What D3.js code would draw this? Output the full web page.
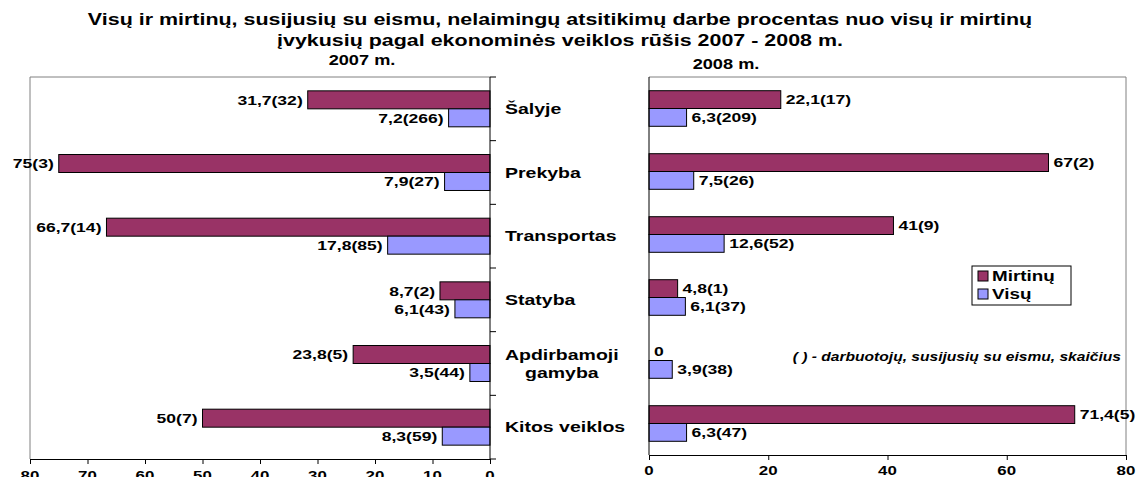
<!DOCTYPE html>
<html>
<head>
<meta charset="utf-8">
<script src="https://cdn.jsdelivr.net/npm/d3@7"></script>
<style>
  body { margin: 0; background: #fff; }
  text { font-family: "Liberation Sans", Arial, sans-serif; font-weight: bold; fill: #000; }
</style>
</head>
<body>
<div id="chart"></div>
<script>
const categories = ['Šalyje', 'Prekyba', 'Transportas', 'Statyba', 'Apdirbamoji\ngamyba', 'Kitos veiklos'];
const series = ['Mirtinų', 'Visų'];
const fatal2007 = [31.7, 75, 66.7, 8.7, 23.8, 50];
const fatalCount2007 = [32, 3, 14, 2, 5, 7];
const all2007 = [7.2, 7.9, 17.8, 6.1, 3.5, 8.3];
const allCount2007 = [266, 27, 85, 43, 44, 59];
const fatal2008 = [22.1, 67, 41, 4.8, 0, 71.4];
const fatalCount2008 = [17, 2, 9, 1, null, 5];
const all2008 = [6.3, 7.5, 12.6, 6.1, 3.9, 6.3];
const allCount2008 = [209, 26, 52, 37, 38, 47];
const ticks2007 = [0, 10, 20, 30, 40, 50, 60, 70, 80];
const ticks2008 = [0, 20, 40, 60, 80];
const titleLines = [
  'Visų ir mirtinų, susijusių su eismu, nelaimingų atsitikimų darbe procentas nuo visų ir mirtinų',
  'įvykusių pagal ekonominės veiklos rūšis 2007 - 2008 m.'
];
const note = '( ) - darbuotojų, susijusių su eismu, skaičius';

const width = 1141, height = 477;
const SX = 1.3; // the source picture is stretched sideways
const colors = {Mirtinų: '#993366', Visų: '#9999ff'};

const svg = d3.select('#chart').append('svg')
  .attr('width', width)
  .attr('height', height);

const txt = (g, x, y, s, anchor, size) =>
  g.append('text')
    .attr('transform', `translate(${x},${y}) scale(${SX},1)`)
    .attr('text-anchor', anchor)
    .attr('dy', '0.35em')
    .style('font-size', size + 'px')
    .text(s);

const fmt = (v, c) => String(v).replace('.', ',') + (c == null ? '' : `(${c})`);

// titles
titleLines.forEach((t, i) => txt(svg, 560, 19 + i * 21, t, 'middle', 16.5));
txt(svg, 362, 60, '2007 m.', 'middle', 14);
txt(svg, 726, 64, '2008 m.', 'middle', 14);

const panels = [
  {x0: 30, x1: 490, top: 77, bottom: 459, dir: -1, ticks: ticks2007,
   data: [fatal2007, all2007], counts: [fatalCount2007, allCount2007]},
  {x0: 649, x1: 1126, top: 77, bottom: 455, dir: 1, ticks: ticks2008,
   data: [fatal2008, all2008], counts: [fatalCount2008, allCount2008]}
];

panels.forEach(p => {
  const x = p.dir < 0
    ? d3.scaleLinear().domain([0, 80]).range([p.x1, p.x0])
    : d3.scaleLinear().domain([0, 80]).range([p.x0, p.x1]);
  const y = d3.scaleBand().domain(categories).range([p.top, p.bottom]);
  const ys = d3.scaleBand().domain(series).range([0, y.bandwidth()]).paddingOuter(0.77);
  const zero = x(0);
  const g = svg.append('g');

  // plot border (grey)
  if (p.dir < 0) {
    g.append('path').attr('d', `M${p.x0},${p.bottom}V${p.top}H${zero}`)
      .attr('fill', 'none').attr('stroke', '#808080');
  } else {
    g.append('path').attr('d', `M${zero},${p.top}H${p.x1}V${p.bottom}`)
      .attr('fill', 'none').attr('stroke', '#808080');
  }

  series.forEach((s, si) => {
    const rows = categories.map((c, i) => ({c, v: p.data[si][i], n: p.counts[si][i]}));
    g.selectAll(null).data(rows).enter().append('rect')
      .attr('x', d => Math.min(zero, x(d.v)))
      .attr('y', d => y(d.c) + ys(s))
      .attr('width', d => Math.abs(x(d.v) - zero))
      .attr('height', ys.bandwidth())
      .attr('fill', colors[s])
      .attr('stroke', '#000')
      .attr('stroke-width', 1);
    rows.forEach(d => {
      const lx = x(d.v) + p.dir * 5;
      txt(g, lx, y(d.c) + ys(s) + ys.bandwidth() / 2, fmt(d.v, d.n), p.dir < 0 ? 'end' : 'start', 13.5);
    });
  });

  // value axis
  const ax = g.append('g')
    .attr('transform', `translate(0,${p.bottom})`)
    .call(d3.axisBottom(x).tickValues(p.ticks).tickSize(5).tickSizeOuter(0).tickFormat(d3.format('d')));
  ax.select('.domain').attr('stroke', '#000');
  ax.selectAll('.tick line').attr('stroke', '#000');
  ax.selectAll('.tick text').remove();
  p.ticks.forEach(t => txt(ax, x(t), p.dir < 0 ? 16 : 15, String(t), 'middle', 13));

  // category axis
  g.append('line').attr('x1', zero).attr('x2', zero).attr('y1', p.top).attr('y2', p.bottom)
    .attr('stroke', '#000');
  if (p.dir < 0) {
    g.selectAll(null).data(d3.range(categories.length + 1)).enter().append('line')
      .attr('x1', zero).attr('x2', zero + 6)
      .attr('y1', i => p.top + i * y.step()).attr('y2', i => p.top + i * y.step())
      .attr('stroke', '#000');

    // category labels, left edge at 505
    categories.forEach(c => {
      const lines = c.split('\n');
      const lg = svg.append('g');
      const cy = y(c) + y.bandwidth() / 2 - (lines.length - 1) * 9;
      const tt = lines.map((l, i) => txt(lg, 0, cy + i * 18, l, 'middle', 15));
      const w = d3.max(tt, t => t.node().getComputedTextLength()) * SX;
      tt.forEach((t, i) => t.attr('transform', `translate(${505 + w / 2},${cy + i * 18}) scale(${SX},1)`));
    });
  }
});

// legend
const lg = svg.append('g').attr('transform', 'translate(972,266)');
lg.append('rect').attr('width', 99).attr('height', 39).attr('fill', '#fff').attr('stroke', '#000');
series.forEach((s, i) => {
  lg.append('rect').attr('x', 6).attr('y', 5 + i * 18).attr('width', 10).attr('height', 10)
    .attr('fill', colors[s]).attr('stroke', '#000');
  txt(lg, 20, 10 + i * 18, s, 'start', 14.5);
});

txt(svg, 1121, 357, note, 'end', 12).style('font-style', 'italic');
</script>
</body>
</html>
